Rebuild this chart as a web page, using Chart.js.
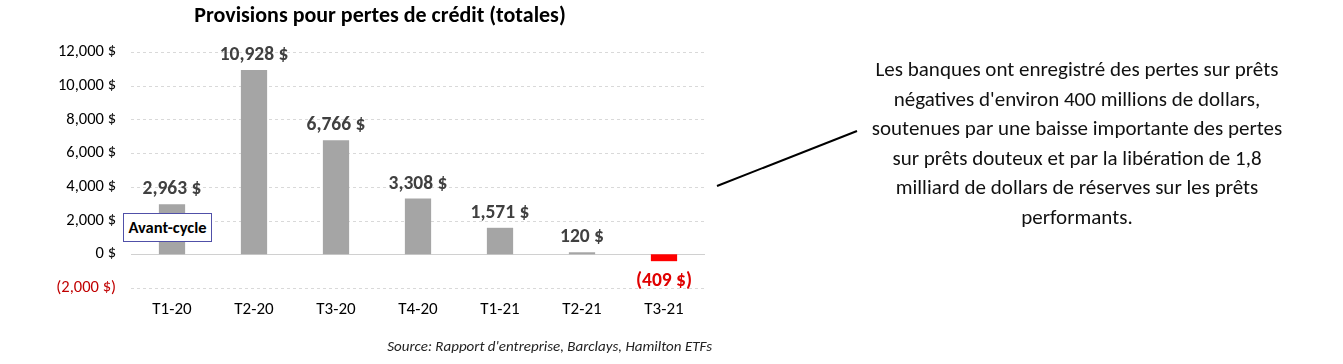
<!DOCTYPE html>
<html lang="fr">
<head>
<meta charset="UTF-8">
<title>Provisions pour pertes de crédit</title>
<script src="https://cdn.jsdelivr.net/npm/chart.js"></script>
<style>
    body { margin: 0; background: #fff; width: 1343px; height: 364px; position: relative; overflow: hidden;
           font-family: Carlito, 'Liberation Sans Narrow', 'DejaVu Sans Condensed', sans-serif; }
    #myChart { position: absolute; left: 0; top: 0; }
    #title { position: absolute; left: 0; top: 2px; width: 760px; text-align: center; font-weight: bold; font-size: 22px; line-height: 26px; color: #000; }
    #source { position: absolute; right: 631px; top: 337px; font-style: italic; font-size: 15px; line-height: 18px; color: #222; }
    #avant { position: absolute; left: 123px; top: 213px; width: 87px; height: 27px; line-height: 27px; border: 1px solid #5050a8;
             background: #fff; text-align: center; font-weight: bold; font-size: 16.5px; color: #000; }
    #note { position: absolute; left: 857px; top: 55px; width: 440px; text-align: center; font-size: 21px; line-height: 29.5px; color: #111; }
    #lien { position: absolute; left: 0; top: 0; }
</style>
</head>
<body>
<canvas id="myChart" width="720" height="364"></canvas>
<div id="title">Provisions pour pertes de crédit (totales)</div>
<div id="avant">Avant-cycle</div>
<div id="source">Source: Rapport d'entreprise, Barclays, Hamilton ETFs</div>
<svg id="lien" width="1343" height="364"><line x1="717" y1="186" x2="857" y2="131" stroke="#000" stroke-width="2"/></svg>
<div id="note">Les banques ont enregistré des pertes sur prêts<br>négatives d'environ 400 millions de dollars,<br>soutenues par une baisse importante des pertes<br>sur prêts douteux et par la libération de 1,8<br>milliard de dollars de réserves sur les prêts<br>performants.</div>

<script>
    // données
    const trimestres = ['T1-20', 'T2-20', 'T3-20', 'T4-20', 'T1-21', 'T2-21', 'T3-21'];
    const provisions = [2963, 10928, 6766, 3308, 1571, 120, -409];
    const yTicks = [-2000, 0, 2000, 4000, 6000, 8000, 10000, 12000];

    const FONT = "Carlito, 'Liberation Sans Narrow', 'DejaVu Sans Condensed', sans-serif";

    function fmt(v) {
        const s = Math.abs(v).toLocaleString('en-US') + ' $';
        return v < 0 ? '(' + s + ')' : s;
    }

    const barColors = provisions.map(v => v < 0 ? '#ff0000' : '#a5a5a5');

    // lignes de grille pointillées + étiquettes de valeurs
    const extras = {
        id: 'extras',
        beforeDatasetsDraw(chart) {
            const c = chart.ctx, y = chart.scales.y, a = chart.chartArea;
            c.save();
            yTicks.forEach(t => {
                const py = Math.round(y.getPixelForValue(t)) + 0.5;
                c.beginPath();
                c.strokeStyle = t === 0 ? '#d0d0d0' : '#d9d9d9';
                c.lineWidth = 1;
                c.setLineDash(t === 0 ? [] : [3, 3]);
                c.moveTo(a.left, py);
                c.lineTo(a.right, py);
                c.stroke();
            });
            c.restore();
        },
        afterDatasetsDraw(chart) {
            const c = chart.ctx;
            const meta = chart.getDatasetMeta(0);
            c.save();
            c.font = 'bold 19.5px ' + FONT;
            c.textAlign = 'center';
            c.textBaseline = 'alphabetic';
            meta.data.forEach((bar, i) => {
                const v = provisions[i];
                if (v < 0) {
                    c.fillStyle = '#e00000';
                    c.fillText(fmt(v), bar.x, bar.y + 25);
                } else {
                    c.fillStyle = '#404040';
                    c.fillText(fmt(v), bar.x, bar.y - 10);
                }
            });
            c.restore();
        }
    };

    new Chart(document.getElementById('myChart'), {
        type: 'bar',
        data: {
            labels: trimestres,
            datasets: [{
                data: provisions,
                backgroundColor: barColors,
                borderWidth: 0,
                categoryPercentage: 1,
                barPercentage: 0.32
            }]
        },
        options: {
            responsive: false,
            animation: false,
            layout: { padding: { top: 52, right: 15, bottom: 36, left: 0 } },
            plugins: { legend: { display: false }, tooltip: { enabled: false } },
            scales: {
                x: {
                    grid: { display: false, drawTicks: false },
                    border: { display: false },
                    ticks: { color: '#000', padding: 12, font: { size: 17, family: FONT } },
                    afterFit(s) { s.height = 40; }
                },
                y: {
                    min: -2000,
                    max: 12000,
                    afterBuildTicks(s) { s.ticks = yTicks.map(v => ({ value: v })); },
                    grid: { display: false, drawTicks: false },
                    border: { display: false },
                    ticks: {
                        padding: 15,
                        font: { size: 16.5, family: FONT },
                        color: ctx => ctx.tick.value < 0 ? '#c00000' : '#000',
                        callback: v => fmt(v)
                    },
                    afterFit(s) { s.width = 131; }
                }
            }
        },
        plugins: [extras]
    });
</script>
</body>
</html>
